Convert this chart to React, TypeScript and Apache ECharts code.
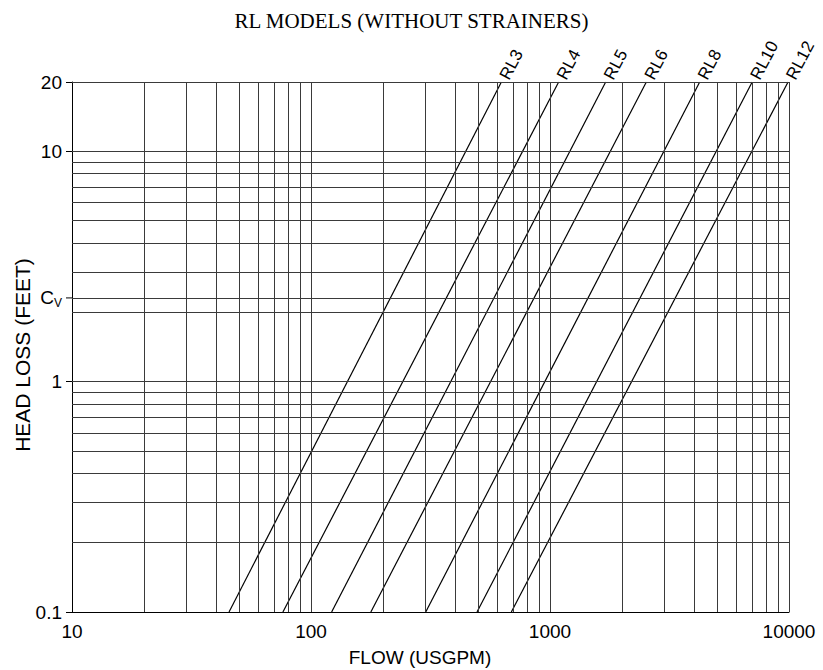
import React, { useEffect, useRef } from 'react';
import * as echarts from 'echarts';

// ---- data ----
const models = ['RL3', 'RL4', 'RL5', 'RL6', 'RL8', 'RL10', 'RL12'];
const headRange = [0.1, 20];
const flowAtMinHead = [45.4, 76.3, 122, 178, 302, 495, 689];
const flowAtMaxHead = [626, 1087, 1710, 2530, 4230, 7015, 9908];
const xGridValues = [
  20, 30, 40, 50, 60, 70, 80, 90, 100,
  200, 300, 400, 500, 600, 700, 800, 900, 1000,
  2000, 3000, 4000, 5000, 6000, 7000, 8000, 9000, 10000,
];
const yGridValues = [
  0.2, 0.3, 0.4, 0.5, 0.6, 0.7, 0.8, 0.9, 1,
  2, 3, 4, 5, 6, 7, 8, 9, 10, 20,
];
const cvHead = 2.31;

const SANS = 'Liberation Sans, Arial, sans-serif';
const SERIF = 'Liberation Serif, Times New Roman, serif';

export default function App() {
  const ref = useRef<HTMLDivElement>(null);

  useEffect(() => {
    if (!ref.current) return;
    const chart = echarts.init(ref.current, undefined, { renderer: 'svg' });

    const gridLineData: any[] = [
      ...xGridValues.map((v) => ({ xAxis: v })),
      ...yGridValues.map((v) => ({ yAxis: v })),
      {
        yAxis: cvHead,
        label: {
          show: true,
          position: 'start',
          distance: 0,
          formatter: '{c|C}{v|V}{g|}{t|}',
          rich: {
            c: { fontSize: 19, fontFamily: SANS, color: '#000', verticalAlign: 'middle', lineHeight: 22 },
            v: { fontSize: 12, fontFamily: SANS, color: '#000', verticalAlign: 'bottom' },
            g: { width: 4, height: 1 },
            t: { width: 6, height: 1, backgroundColor: '#000', verticalAlign: 'middle' },
          },
        },
      },
    ];

    const series: any[] = models.map((name, i) => ({
      type: 'line',
      name,
      data: [
        [flowAtMinHead[i], headRange[0]],
        [flowAtMaxHead[i], headRange[1]],
      ],
      symbol: 'none',
      silent: true,
      z: 3,
      lineStyle: { color: '#000', width: 1.2 },
      markPoint: {
        symbol: 'circle',
        symbolSize: 0,
        silent: true,
        itemStyle: { color: 'transparent' },
        label: {
          show: true,
          formatter: name,
          position: 'top',
          distance: 4,
          offset: [1, 11],
          rotate: 62,
          align: 'left',
          verticalAlign: 'bottom',
          color: '#000',
          fontSize: 17,
          fontFamily: SANS,
        },
        data: [{ coord: [flowAtMaxHead[i], headRange[1]], name }],
      },
      markLine:
        i === 0
          ? {
              silent: true,
              symbol: ['none', 'none'],
              animation: false,
              label: { show: false },
              lineStyle: { color: '#3a3a3a', width: 1, type: 'solid' },
              emphasis: { disabled: true },
              data: gridLineData,
            }
          : undefined,
    }));

    chart.setOption({
      animation: false,
      backgroundColor: '#fff',
      title: {
        text: 'RL MODELS (WITHOUT STRAINERS)',
        left: 'center',
        top: 5,
        textStyle: { fontFamily: SERIF, fontSize: 21, fontWeight: 'normal', color: '#000' },
      },
      grid: { left: 72, right: 34, top: 82, bottom: 58, outerBoundsMode: 'none' },
      xAxis: {
        type: 'log',
        logBase: 10,
        min: 10,
        max: 10000,
        name: 'FLOW (USGPM)',
        nameLocation: 'middle',
        nameGap: 36,
        nameMoveOverlap: false,
        nameTextStyle: { fontFamily: SANS, fontSize: 19, color: '#000', padding: [0, 21, 0, 0] },
        axisLine: { show: true, lineStyle: { color: '#000', width: 1 } },
        axisTick: { show: false },
        axisLabel: {
          fontFamily: SANS,
          fontSize: 19,
          color: '#000',
          margin: 10,
          formatter: (v: number) => String(v),
        },
        splitLine: { show: false },
        minorSplitLine: { show: false },
      },
      yAxis: {
        type: 'log',
        logBase: 10,
        min: 0.1,
        max: 20,
        name: 'HEAD LOSS (FEET)',
        nameLocation: 'middle',
        nameGap: 39,
        nameMoveOverlap: false,
        nameTextStyle: { fontFamily: SANS, fontSize: 21, color: '#000', padding: [0, 16, 0, 0] },
        axisLine: { show: true, lineStyle: { color: '#000', width: 1 } },
        axisTick: { show: true, length: 6, lineStyle: { color: '#000' } },
        axisLabel: { fontFamily: SANS, fontSize: 19, color: '#000', margin: 10 },
        splitLine: { show: false },
        minorSplitLine: { show: false },
      },
      series,
    });

    return () => chart.dispose();
  }, []);

  return (
    <div
      ref={ref}
      style={{ position: 'absolute', left: 0, top: 0, width: 823, height: 670 }}
    />
  );
}
